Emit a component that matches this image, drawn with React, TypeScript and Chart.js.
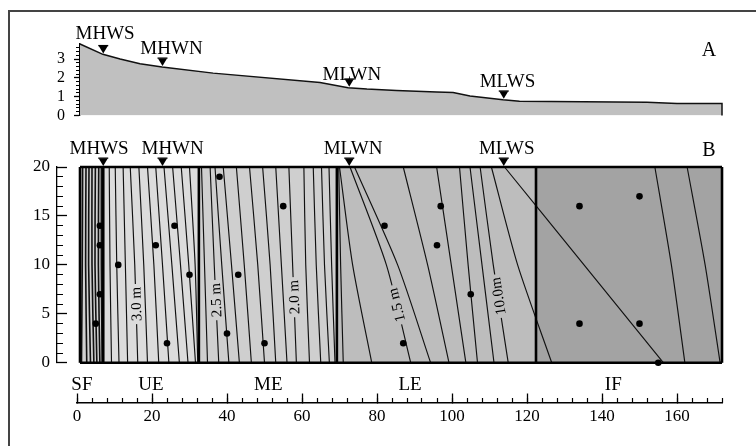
import React, { useEffect, useRef } from 'react';
import { Chart, registerables } from 'chart.js';

Chart.register(...registerables);

const SERIF = "'Liberation Serif', 'DejaVu Serif', 'Times New Roman', serif";

// ---------- Panel A: elevation profile ----------
const profileX = [0.8, 6.9, 11.5, 16.8, 22.7, 36.3, 64.8, 72.3, 77.3, 85.2, 95.9, 100.3, 104.8, 113.6, 118, 152, 160, 172, 172];
const profileY = [3.8, 3.25, 3.0, 2.75, 2.58, 2.25, 1.75, 1.47, 1.4, 1.33, 1.25, 1.22, 1.03, 0.83, 0.75, 0.7, 0.63, 0.63, 0];
const yATicksMajor = [0, 1, 2, 3];
const yATicksMinor = [0, 0.2, 0.4, 0.6, 0.8, 1, 1.2, 1.4, 1.6, 1.8, 2, 2.2, 2.4, 2.6, 2.8, 3, 3.2, 3.4, 3.6];

// tidal levels
const tideNames = ['MHWS', 'MHWN', 'MLWN', 'MLWS'];
const tideX = [7, 22.8, 72.6, 113.8];
const tideLabelAX = [7.5, 25.2, 73.3, 114.8];
const tideLabelAY = [4.35, 3.55, 2.15, 1.78];
const tideLabelBX = [5.9, 25.5, 73.6, 114.6];

// ---------- Panel B: zones, contours, samples ----------
const zoneNames = ['SF', 'UE', 'ME', 'LE', 'IF'];
const zoneEdges = [0.8, 7, 32.5, 69.3, 122.4, 172];
const zoneLabelX = [1.3, 19.7, 51, 88.8, 143];
const yBTicksMajor = [0, 5, 10, 15, 20];
const yBTicksMinor = [0, 1, 2, 3, 4, 5, 6, 7, 8, 9, 10, 11, 12, 13, 14, 15, 16, 17, 18, 19, 20];

// contour lines: x position at y = 20, 10 and 0
const contourY = [20, 10, 0];
const contourTopX = [
  1.5, 2.4, 3.2, 4.0, 4.9, 5.8, 6.5,
  8.6, 10.2, 12.3, 14.2, 16.5, 18.8, 21.0, 23.2, 25.5, 27.8, 30.0,
  33.2, 35.5, 36.8, 39.0, 42.5, 46.0, 49.5, 53.0, 56.5, 60.5, 63.0, 65.2, 67.2,
  69.8, 70.0, 72.8, 74.0, 87.0, 95.9, 102.0, 104.8, 107.5, 110.5,
  114.0, 154.1, 162.7,
];
const contourMidX = [
  1.4, 2.3, 3.1, 4.0, 4.8, 5.7, 6.5,
  8.8, 10.6, 12.9, 15.4, 17.8, 20.5, 22.8, 25.3, 27.6, 29.8, 31.5,
  34.0, 36.6, 38.6, 41.2, 44.6, 48.2, 51.5, 54.5, 57.5, 61.0, 63.8, 66.0, 67.9,
  70.3, 73.5, 82.5, 85.5, 93.5, 99.8, 104.3, 108.0, 111.0, 117.5,
  135.2, 158.5, 167.5,
];
const contourBotX = [
  1.2, 2.6, 3.6, 4.5, 5.3, 6.1, 6.7,
  9.2, 11.2, 13.5, 16.2, 18.8, 21.8, 24.5, 27.3, 29.6, 31.6, 32.2,
  34.8, 37.8, 40.5, 43.3, 46.5, 50.0, 53.0, 56.0, 58.5, 62.0, 65.0, 67.3, 68.8,
  71.0, 78.6, 89.0, 94.3, 99.2, 103.7, 106.8, 111.2, 115.0, 126.6,
  156.4, 162.1, 171.5,
];
const contourLabels = ['3.0 m', '2.5 m', '2.0 m', '1.5 m', '10.0m'];
const contourLabelLine = [10, 19, 26, 33, 39];
const contourLabelY = [6.0, 6.4, 6.7, 5.9, 6.8];

// sampling stations
const dotX = [6.1, 6.1, 6.1, 5.0, 11, 21, 26, 30, 24, 38, 43, 40, 50, 55, 82, 97, 96, 105, 87, 134, 150, 134, 150, 155];
const dotY = [14, 12, 7, 4, 10, 12, 14, 9, 2, 19, 9, 3, 2, 16, 14, 16, 12, 7, 2, 16, 17, 4, 4, 0];

// ---------- bottom axis ----------
const xTicksMajor = [0, 20, 40, 60, 80, 100, 120, 140, 160];
const xMinorStep = 4;
const xAxisEnd = 172;

// ---------- layout constants (page pixels) ----------
const PX0 = 77;
const PPU = 3.75;
const xAt = (px: number) => (px - PX0) / PPU;
const zoneColors = ['#d0d0d0', '#dcdcdc', '#cfcfcf', '#bdbdbd', '#a3a3a3'];

function interp(xs: number[], ys: number[], x: number) {
  for (let i = 0; i < xs.length - 1; i++) {
    if (x >= xs[i] && x <= xs[i + 1]) {
      const d = xs[i + 1] - xs[i] || 1;
      return ys[i] + ((x - xs[i]) / d) * (ys[i + 1] - ys[i]);
    }
  }
  return ys[ys.length - 1];
}

function drawTri(ctx: CanvasRenderingContext2D, px: number, tipY: number) {
  ctx.beginPath();
  ctx.moveTo(px - 4.5, tipY - 7.5);
  ctx.lineTo(px + 4.5, tipY - 7.5);
  ctx.lineTo(px, tipY);
  ctx.closePath();
  ctx.fill();
  ctx.fillRect(px - 5, tipY - 8.5, 10, 1.3);
}

const ticksFrom = (arr: number[]) => (s: any) => {
  s.ticks = arr.map((v) => ({ value: v }));
};

const tickFont = { family: SERIF, size: 17 };

function makeA(canvas: HTMLCanvasElement) {
  const annot = {
    id: 'annotA',
    afterDatasetsDraw(chart: any) {
      const { ctx } = chart;
      const xs = chart.scales.x;
      const ys = chart.scales.yA;
      ctx.save();
      ctx.fillStyle = '#000';
      ctx.font = `19px ${SERIF}`;
      ctx.textAlign = 'center';
      ctx.textBaseline = 'middle';
      tideNames.forEach((name, i) => {
        const px = xs.getPixelForValue(tideX[i]);
        const py = ys.getPixelForValue(interp(profileX, profileY, tideX[i]));
        drawTri(ctx, px, py - 1);
        ctx.fillText(name, xs.getPixelForValue(tideLabelAX[i]), ys.getPixelForValue(tideLabelAY[i]));
      });
      ctx.restore();
    },
  };
  return new Chart(canvas, {
    type: 'line',
    data: {
      datasets: [
        {
          data: profileX.map((x, i) => ({ x, y: profileY[i] })),
          xAxisID: 'x',
          yAxisID: 'yA',
          borderColor: '#111',
          borderWidth: 1.5,
          backgroundColor: '#c0c0c0',
          fill: 'origin',
          pointRadius: 0,
          tension: 0,
          clip: false as any,
        },
      ],
    },
    options: {
      responsive: false,
      animation: false,
      events: [],
      layout: { padding: { left: 10, right: 26, top: 32, bottom: 14 } },
      plugins: { legend: { display: false }, tooltip: { enabled: false } },
      scales: {
        x: { type: 'linear', display: false, min: 0.8, max: xAt(730) },
        yA: {
          type: 'linear',
          position: 'left',
          min: 0,
          max: 3.8,
          afterBuildTicks: ticksFrom(yATicksMajor),
          afterFit: (s: any) => {
            s.width = 70;
          },
          grid: { drawOnChartArea: false, tickLength: 6, tickColor: '#000', tickWidth: 1.3 },
          border: { display: true, color: '#000', width: 1.3 },
          ticks: { autoSkip: false, padding: 9, color: '#000', font: { family: SERIF, size: 16 } },
        },
        yAm: {
          type: 'linear',
          position: { x: 0.8 } as any,
          min: 0,
          max: 3.8,
          afterBuildTicks: ticksFrom(yATicksMinor),
          grid: { drawOnChartArea: false, tickLength: 4, tickColor: '#000', tickWidth: 1 },
          border: { display: false },
          ticks: { display: false },
        },
      } as any,
    },
    plugins: [annot],
  });
}

function makeB(canvas: HTMLCanvasElement) {
  const zoneAt = (x: number) => {
    for (let i = 0; i < zoneEdges.length - 1; i++) if (x >= zoneEdges[i] && x < zoneEdges[i + 1]) return i;
    return zoneEdges.length - 2;
  };
  const annot = {
    id: 'annotB',
    afterDatasetsDraw(chart: any) {
      const { ctx } = chart;
      const xs = chart.scales.x;
      const ys = chart.scales.yB;
      const top = chart.chartArea.top;
      ctx.save();
      // contour labels
      ctx.font = `15px ${SERIF}`;
      ctx.textAlign = 'center';
      ctx.textBaseline = 'middle';
      contourLabels.forEach((txt, k) => {
        const j = contourLabelLine[k];
        const y = contourLabelY[k];
        const lx = [contourTopX[j], contourMidX[j], contourBotX[j]];
        const seg = y >= contourY[1] ? 0 : 1;
        const yU = contourY[seg];
        const yL = contourY[seg + 1];
        const t = (yU - y) / (yU - yL);
        const x = lx[seg] + t * (lx[seg + 1] - lx[seg]);
        const px = xs.getPixelForValue(x);
        const py = ys.getPixelForValue(y);
        const dx = xs.getPixelForValue(lx[seg]) - xs.getPixelForValue(lx[seg + 1]);
        const dy = ys.getPixelForValue(yU) - ys.getPixelForValue(yL);
        const ang = Math.atan2(dy, dx);
        const w = ctx.measureText(txt).width + 6;
        ctx.save();
        ctx.translate(px, py);
        ctx.rotate(ang);
        ctx.fillStyle = zoneColors[zoneAt(x)];
        ctx.fillRect(-w / 2, -6, w, 12);
        ctx.fillStyle = '#000';
        ctx.fillText(txt, 0, 1);
        ctx.restore();
      });
      // tidal markers
      ctx.fillStyle = '#000';
      ctx.font = `19px ${SERIF}`;
      tideNames.forEach((name, i) => {
        drawTri(ctx, xs.getPixelForValue(tideX[i]), top - 1);
        ctx.fillText(name, xs.getPixelForValue(tideLabelBX[i]), top - 18);
      });
      ctx.restore();
    },
  };

  const datasets: any[] = [];
  zoneNames.forEach((_, i) => {
    datasets.push({
      type: 'line',
      data: [
        { x: zoneEdges[i], y: 20 },
        { x: zoneEdges[i + 1], y: 20 },
      ],
      fill: 'origin',
      backgroundColor: zoneColors[i],
      borderWidth: 0,
      pointRadius: 0,
      order: 40,
      clip: false,
    });
  });
  contourTopX.forEach((_, j) => {
    const inSF = contourTopX[j] < zoneEdges[1];
    datasets.push({
      type: 'line',
      data: [contourTopX[j], contourMidX[j], contourBotX[j]].map((x, k) => ({ x, y: contourY[k] })),
      borderColor: '#111',
      borderWidth: inSF ? 1.6 : 1.15,
      tension: 0.25,
      pointRadius: 0,
      fill: false,
      order: 30,
      clip: false,
    });
  });
  zoneEdges.forEach((e) => {
    datasets.push({
      type: 'line',
      data: [
        { x: e, y: 0 },
        { x: e, y: 20 },
      ],
      borderColor: '#000',
      borderWidth: 2.6,
      pointRadius: 0,
      fill: false,
      order: 20,
      clip: false,
    });
  });
  [0, 20].forEach((yv) => {
    datasets.push({
      type: 'line',
      data: [
        { x: zoneEdges[0], y: yv },
        { x: zoneEdges[zoneEdges.length - 1], y: yv },
      ],
      borderColor: '#000',
      borderWidth: 2.6,
      pointRadius: 0,
      fill: false,
      order: 20,
      clip: false,
    });
  });
  datasets.push({
    type: 'scatter',
    data: dotX.map((x, i) => ({ x, y: dotY[i] })),
    backgroundColor: '#000',
    borderColor: '#000',
    pointRadius: 3.3,
    borderWidth: 0,
    order: 10,
    clip: false,
  });
  datasets.forEach((d) => {
    d.xAxisID = 'x';
    d.yAxisID = 'yB';
  });

  return new Chart(canvas, {
    type: 'line',
    data: { datasets },
    options: {
      responsive: false,
      animation: false,
      events: [],
      layout: { padding: { left: 10, right: 26, top: 32, bottom: 21 } },
      plugins: { legend: { display: false }, tooltip: { enabled: false } },
      scales: {
        x: { type: 'linear', display: false, min: xAt(57), max: xAt(730) },
        yB: {
          type: 'linear',
          position: 'left',
          min: 0,
          max: 20,
          afterBuildTicks: ticksFrom(yBTicksMajor),
          afterFit: (s: any) => {
            s.width = 47;
          },
          grid: { drawOnChartArea: false, tickLength: -10, tickColor: '#000', tickWidth: 1.3 },
          border: { display: true, color: '#000', width: 1.3 },
          ticks: { autoSkip: false, padding: 17, color: '#000', font: tickFont },
        },
        yBm: {
          type: 'linear',
          position: { x: xAt(57) } as any,
          min: 0,
          max: 20,
          afterBuildTicks: ticksFrom(yBTicksMinor),
          grid: { drawOnChartArea: false, tickLength: -6, tickColor: '#000', tickWidth: 1 },
          border: { display: false },
          ticks: { display: false },
        },
      } as any,
    },
    plugins: [annot],
  });
}

function makeC(canvas: HTMLCanvasElement) {
  const minor: number[] = [];
  for (let v = 0; v <= xAxisEnd; v += xMinorStep) minor.push(v);
  const annot = {
    id: 'annotC',
    afterDraw(chart: any) {
      const { ctx } = chart;
      const xs = chart.scales.x;
      ctx.save();
      ctx.fillStyle = '#000';
      ctx.font = `19px ${SERIF}`;
      ctx.textAlign = 'center';
      ctx.textBaseline = 'middle';
      zoneNames.forEach((n, i) => {
        ctx.fillText(n, xs.getPixelForValue(zoneLabelX[i]), chart.chartArea.bottom - 18);
      });
      ctx.restore();
    },
  };
  return new Chart(canvas, {
    type: 'line',
    data: { datasets: [{ data: [], xAxisID: 'x', yAxisID: 'yC' }] },
    options: {
      responsive: false,
      animation: false,
      events: [],
      layout: { padding: { left: PX0, right: 756 - (PX0 + xAxisEnd * PPU), top: 10, bottom: 43 } },
      plugins: { legend: { display: false }, tooltip: { enabled: false } },
      scales: {
        yC: { type: 'linear', display: false, min: 0, max: 1 },
        x: {
          type: 'linear',
          position: { yC: 0 } as any,
          min: 0,
          max: xAxisEnd,
          afterBuildTicks: ticksFrom(xTicksMajor),
          grid: { drawOnChartArea: false, tickLength: -10, tickColor: '#000', tickWidth: 1.3 },
          border: { display: true, color: '#000', width: 1.5 },
          ticks: { autoSkip: false, maxRotation: 0, padding: 13, color: '#000', font: tickFont },
        },
        xm: {
          type: 'linear',
          position: { yC: 0 } as any,
          min: 0,
          max: xAxisEnd,
          afterBuildTicks: ticksFrom(minor),
          grid: { drawOnChartArea: false, tickLength: -5, tickColor: '#000', tickWidth: 1.2 },
          border: { display: false },
          ticks: { display: false },
        },
      } as any,
    },
    plugins: [annot],
  });
}

export default function App() {
  const refA = useRef<HTMLCanvasElement>(null);
  const refB = useRef<HTMLCanvasElement>(null);
  const refC = useRef<HTMLCanvasElement>(null);
  useEffect(() => {
    const charts = [makeA(refA.current!), makeB(refB.current!), makeC(refC.current!)];
    return () => charts.forEach((c) => c.destroy());
  }, []);
  const letter: React.CSSProperties = {
    position: 'absolute',
    left: 689,
    width: 40,
    textAlign: 'center',
    fontFamily: SERIF,
    fontSize: 20,
    lineHeight: '24px',
    color: '#000',
  };
  return (
    <div style={{ position: 'absolute', left: 0, top: 0, width: 756, height: 446, overflow: 'hidden', background: '#fff' }}>
      <div
        style={{
          position: 'absolute',
          left: 8,
          top: 10,
          width: 800,
          height: 500,
          borderTop: '2px solid #444',
          borderLeft: '2px solid #444',
        }}
      />
      <canvas ref={refA} width={756} height={122} style={{ position: 'absolute', left: 0, top: 12, width: 756, height: 122 }} />
      <canvas ref={refB} width={756} height={255} style={{ position: 'absolute', left: 0, top: 135, width: 756, height: 255 }} />
      <canvas ref={refC} width={756} height={76} style={{ position: 'absolute', left: 0, top: 370, width: 756, height: 76 }} />
      <div style={{ ...letter, top: 37 }}>A</div>
      <div style={{ ...letter, top: 137 }}>B</div>
    </div>
  );
}
